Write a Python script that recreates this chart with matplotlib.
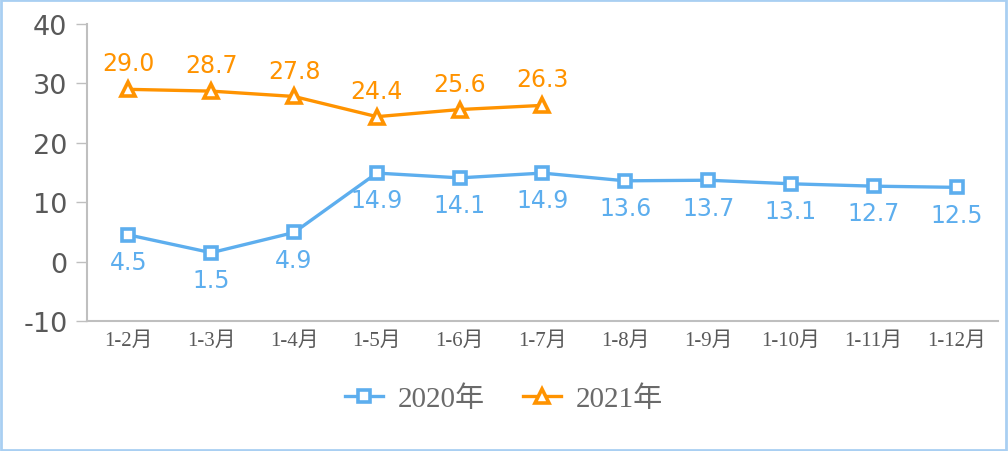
import matplotlib
matplotlib.use("Agg")
import matplotlib.pyplot as plt
from matplotlib.patches import Rectangle

months = ["1-2月", "1-3月", "1-4月", "1-5月", "1-6月", "1-7月",
          "1-8月", "1-9月", "1-10月", "1-11月", "1-12月"]
v2020 = [4.5, 1.5, 4.9, 14.9, 14.1, 14.9, 13.6, 13.7, 13.1, 12.7, 12.5]
v2021 = [29.0, 28.7, 27.8, 24.4, 25.6, 26.3]
yticks = [-10, 0, 10, 20, 30, 40]

BLUE = "#5DAEEE"
ORANGE = "#FF9300"
GRAY = "#595959"
SERIF = ["Liberation Serif", "Noto Sans CJK SC"]

fig = plt.figure(figsize=(10.08, 4.52), dpi=100)
ax = fig.add_axes([0.0863, 0.2876, 0.9037, 0.6571])

x20 = list(range(len(v2020)))
x21 = list(range(len(v2021)))
ax.plot(x20, v2020, color=BLUE, lw=2.4, marker="s", ms=9,
        mfc="white", mec=BLUE, mew=2.6, label="2020年", zorder=3)
ax.plot(x21, v2021, color=ORANGE, lw=2.4, marker="^", ms=10,
        mfc="white", mec=ORANGE, mew=2.6, label="2021年", zorder=3)

for x, v in zip(x20, v2020):
    ax.annotate(f"{v:.1f}", (x, v), xytext=(0, -11), textcoords="offset points",
                ha="center", va="top", fontsize=17, color=BLUE)
for x, v in zip(x21, v2021):
    ax.annotate(f"{v:.1f}", (x, v), xytext=(0, 10), textcoords="offset points",
                ha="center", va="bottom", fontsize=17, color=ORANGE)

ax.set_xlim(-0.5, len(months) - 0.5)
ax.set_ylim(-10, 40)
ax.set_yticks(yticks)
ax.set_yticklabels([str(t) for t in yticks], fontsize=19.5, color=GRAY)
ax.set_xticks(x20)
ax.set_xticklabels(months, family=SERIF, fontsize=15, color=GRAY)
ax.tick_params(axis="x", length=0, pad=7)
ax.tick_params(axis="y", length=8, color="#BFBFBF", width=1, pad=6)

for s in ["top", "right"]:
    ax.spines[s].set_visible(False)
ax.spines["left"].set_color("#BFBFBF")
ax.spines["left"].set_linewidth(1.5)
ax.spines["bottom"].set_color("#BFBFBF")
ax.spines["bottom"].set_linewidth(1.5)

leg = fig.legend(loc="center", bbox_to_anchor=(0.5, 0.115), ncol=2, frameon=False,
                 prop={"family": SERIF, "size": 21}, handlelength=1.3,
                 columnspacing=1.3, handletextpad=0.5)
for t in leg.get_texts():
    t.set_color("#6A6A6A")

fig.patches.append(Rectangle((0.001, 0.002), 0.997, 0.995, transform=fig.transFigure,
                             fill=False, edgecolor="#A9CFF2", lw=2))

fig.savefig("out.png", dpi=100)
